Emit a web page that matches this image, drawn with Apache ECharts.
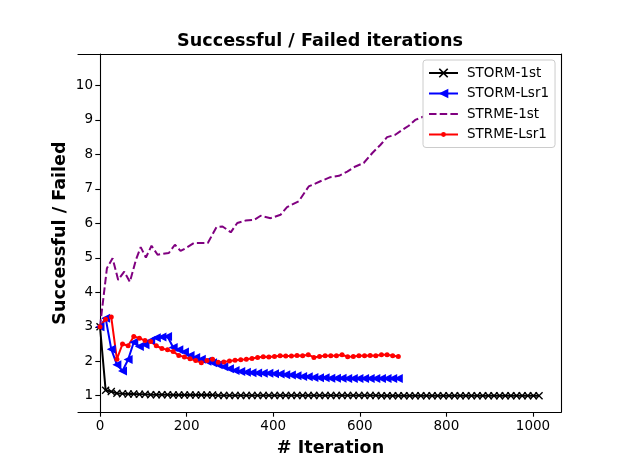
<!DOCTYPE html>
<html>
<head>
<meta charset="utf-8">
<script src="https://cdn.jsdelivr.net/npm/echarts@6/dist/echarts.min.js"></script>
<style>html,body{margin:0;padding:0;background:#fff}#c{width:623px;height:464px}</style>
</head>
<body>
<div id="c"></div>
<script>
var xTicks = [0, 200, 400, 600, 800, 1000];
var yTicks = [1, 2, 3, 4, 5, 6, 7, 8, 9, 10];

var storm1stX = [0,13,26,39,52,65,78,91,104,117,130,143,156,169,182,195,208,221,234,247,260,273,286,299,312,325,338,351,364,377,390,403,416,429,442,455,468,481,494,507,520,533,546,559,572,585,598,611,624,637,650,663,676,689,702,715,728,741,754,767,780,793,806,819,832,845,858,871,884,897,910,923,936,949,962,975,988,1001,1014];
var storm1stY = [3.00,1.16,1.12,1.07,1.06,1.05,1.05,1.04,1.04,1.03,
  1.03,1.03,1.03,1.02,1.02,1.02,1.02,1.02,1.02,1.02,
  1.02,1.01,1.01,1.01,1.01,1.01,1.01,1.01,1.01,1.01,
  1.01,1.01,1.01,1.01,1.01,1.01,1.01,1.01,1.01,1.01,
  1.01,1.01,1.01,1.01,1.01,1.01,1.01,1.01,1.01,1.01,
  1.00,1.00,1.00,1.00,1.00,1.00,1.00,1.00,1.00,1.00,
  1.00,1.00,1.00,1.00,1.00,1.00,1.00,1.00,1.00,1.00,
  1.00,1.00,1.00,1.00,1.00,1.00,1.00,1.00,1.00];

var lsr1X = [0,13,26,39,52,65,78,91,104,117,130,143,156,169,182,195,208,221,234,247,260,273,286,299,312,325,338,351,364,377,390,403,416,429,442,455,468,481,494,507,520,533,546,559,572,585,598,611,624,637,650,663,676,689];
var stormLsr1Y = [3.00,3.25,2.35,1.90,1.72,2.05,2.55,2.43,2.48,2.60,
  2.68,2.70,2.72,2.40,2.33,2.27,2.17,2.11,2.06,2.00,
  1.96,1.90,1.84,1.78,1.73,1.70,1.68,1.67,1.66,1.65,
  1.65,1.64,1.63,1.61,1.60,1.58,1.56,1.55,1.53,1.52,
  1.52,1.51,1.51,1.51,1.50,1.50,1.50,1.50,1.50,1.50,
  1.50,1.50,1.50,1.50];
var strmeLsr1Y = [3.00,3.22,3.28,2.06,2.50,2.45,2.72,2.67,2.60,2.57,
  2.45,2.37,2.33,2.28,2.17,2.12,2.07,2.02,1.96,2.02,
  2.06,1.97,1.98,2.01,2.03,2.04,2.06,2.08,2.11,2.13,
  2.12,2.14,2.16,2.15,2.15,2.17,2.16,2.19,2.11,2.14,
  2.16,2.16,2.16,2.19,2.13,2.14,2.16,2.16,2.17,2.16,
  2.19,2.19,2.16,2.14];

var strme1stX = [0,16,29,42,56,69,83,94,106,119,133,159,173,186,198,217,249,269,283,302,317,336,356,371,394,417,432,459,482,509,532,552,571,590,609,629,648,663,682,698,713,728,748,780,820,860,900,940,980,1000];
var strme1stY = [3.00,4.70,4.99,4.36,4.60,4.30,4.94,5.31,5.01,5.35,5.09,5.14,5.38,5.20,5.28,5.43,5.43,5.89,5.91,5.74,6.01,6.08,6.10,6.22,6.15,6.25,6.47,6.64,7.07,7.22,7.34,7.38,7.50,7.65,7.75,8.04,8.28,8.50,8.57,8.71,8.83,9.00,9.10,9.30,9.60,9.80,10.00,10.20,10.35,10.44];

var seriesNames = ['STORM-1st', 'STORM-Lsr1', 'STRME-1st', 'STRME-Lsr1'];

function pairs(xs, ys) {
  var out = [];
  for (var i = 0; i < xs.length; i++) out.push([xs[i], ys[i]]);
  return out;
}
function plain(v) { return String(v); }

var FONT = 'DejaVu Sans';
var X_MARK = 'path://M0,1.2L1.2,0L5,3.8L8.8,0L10,1.2L6.2,5L10,8.8L8.8,10L5,6.2L1.2,10L0,8.8L3.8,5Z';
var TRI_LEFT = 'path://M0,5L10,0L10,10Z';
var SMALL_DOT = 'path://M0,0M10,10M2.5,5A2.5,2.5,0,1,1,7.5,5A2.5,2.5,0,1,1,2.5,5Z';
var NO_MARK = 'path://M0,0M10,10';

var Y_MIN = 0.528, Y_MAX = 10.912;
var BOLD = {fontFamily: FONT, fontSize: 17.6, fontWeight: 'bold', color: '#000'};
var LINE = {color: '#000', width: 1.1};

var chart = echarts.init(document.getElementById('c'), null, {renderer: 'canvas'});
chart.setOption({
  animation: false,
  backgroundColor: '#fff',
  title: {
    text: 'Successful / Failed iterations',
    left: 320, top: 32, textAlign: 'center', padding: 0,
    textStyle: BOLD
  },
  grid: [
    {left: 100, right: 62, top: 54, bottom: 52, containLabel: false},
    {left: 78, right: 62, top: 54, bottom: 52, containLabel: false}
  ],
  legend: {
    orient: 'vertical', left: 423, top: 60,
    padding: [6, 6, 6, 5],
    itemWidth: 29, itemHeight: 12, itemGap: 6.5,
    backgroundColor: '#fff', borderColor: '#cccccc', borderWidth: 1, borderRadius: 3,
    textStyle: {fontFamily: FONT, fontSize: 13.5, color: '#000', padding: [0, 0, 0, 4]},
    data: seriesNames
  },
  xAxis: [{
    gridIndex: 0, type: 'value', min: 0, max: 1064.7, position: 'bottom',
    name: '# Iteration', nameLocation: 'middle', nameGap: 27, nameMoveOverlap: false,
    nameTextStyle: BOLD,
    axisLine: {show: true, onZero: false, lineStyle: LINE},
    axisTick: {show: true, customValues: xTicks, length: 4.7, lineStyle: LINE},
    axisLabel: {customValues: xTicks, formatter: plain, margin: 7, fontFamily: FONT, fontSize: 13.5, color: '#000'},
    splitLine: {show: false}
  }, {
    gridIndex: 1, type: 'value', min: 0, max: 1, position: 'bottom',
    axisLine: {show: true, onZero: false, lineStyle: LINE},
    axisTick: {show: false}, axisLabel: {show: false}, splitLine: {show: false}
  }, {
    gridIndex: 1, type: 'value', min: 0, max: 1, position: 'top',
    axisLine: {show: true, onZero: false, lineStyle: LINE},
    axisTick: {show: false}, axisLabel: {show: false}, splitLine: {show: false}
  }],
  yAxis: [{
    gridIndex: 0, type: 'value', min: Y_MIN, max: Y_MAX, position: 'left',
    name: 'Successful / Failed', nameLocation: 'middle', nameGap: 31, nameRotate: 90, nameMoveOverlap: false,
    nameTextStyle: BOLD,
    axisLine: {show: true, onZero: false, lineStyle: LINE},
    axisTick: {show: true, customValues: yTicks, length: 4.7, lineStyle: LINE},
    axisLabel: {customValues: yTicks, formatter: plain, margin: 7, fontFamily: FONT, fontSize: 13.5, color: '#000'},
    splitLine: {show: false}
  }, {
    gridIndex: 1, type: 'value', min: Y_MIN, max: Y_MAX, position: 'right',
    axisLine: {show: true, onZero: false, lineStyle: LINE},
    axisTick: {show: false}, axisLabel: {show: false}, splitLine: {show: false}
  }],
  series: [{
    name: seriesNames[0], type: 'line', xAxisIndex: 0, yAxisIndex: 0, clip: false,
    data: pairs(storm1stX, storm1stY),
    symbol: X_MARK, symbolSize: 8, showAllSymbol: true,
    lineStyle: {color: '#000', width: 2},
    itemStyle: {color: '#000'}
  }, {
    name: seriesNames[1], type: 'line', xAxisIndex: 0, yAxisIndex: 0, clip: false,
    data: pairs(lsr1X, stormLsr1Y),
    symbol: TRI_LEFT, symbolSize: 9, showAllSymbol: true,
    lineStyle: {color: '#0000ff', width: 2},
    itemStyle: {color: '#0000ff'}
  }, {
    name: seriesNames[2], type: 'line', xAxisIndex: 0, yAxisIndex: 0, clip: false,
    data: pairs(strme1stX, strme1stY),
    symbol: NO_MARK, showSymbol: false,
    lineStyle: {color: '#800080', width: 2, type: [7.5, 3.2]},
    itemStyle: {color: '#800080'}
  }, {
    name: seriesNames[3], type: 'line', xAxisIndex: 0, yAxisIndex: 0, clip: false,
    data: pairs(lsr1X, strmeLsr1Y),
    symbol: SMALL_DOT, symbolSize: 10, showAllSymbol: true,
    lineStyle: {color: '#ff0000', width: 2},
    itemStyle: {color: '#ff0000'}
  }]
});
</script>
</body>
</html>
